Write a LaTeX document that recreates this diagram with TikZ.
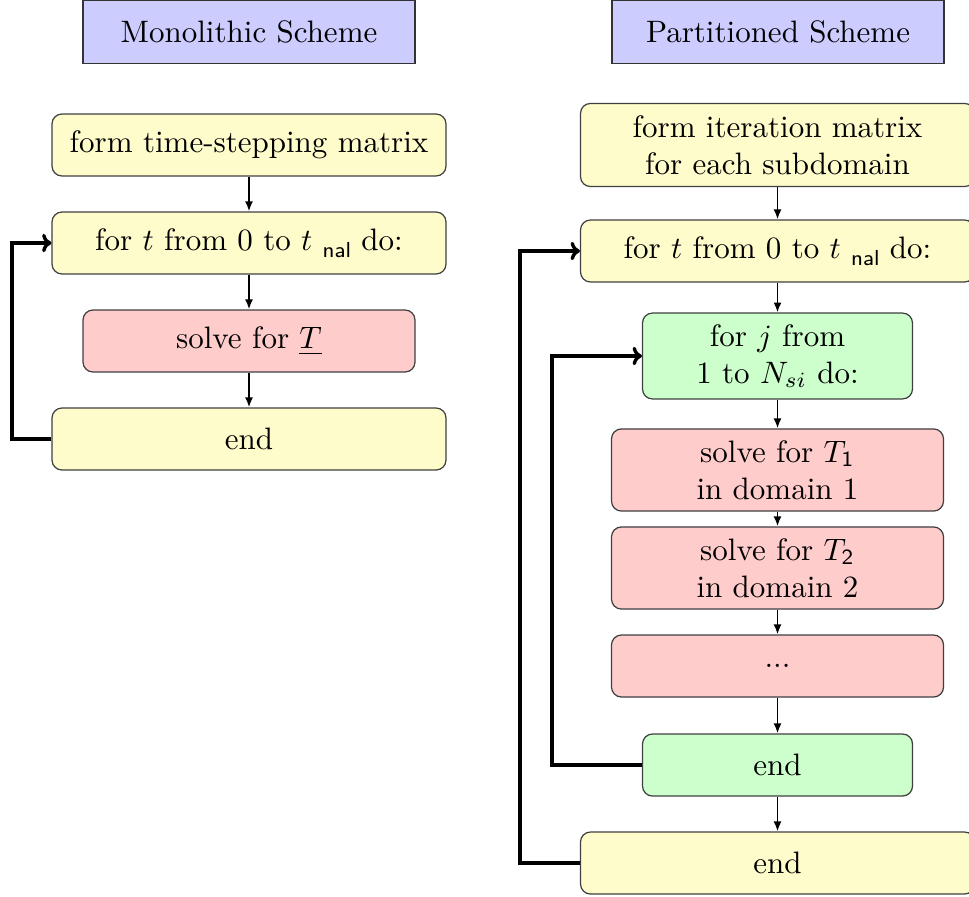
\documentclass[tikz,border=0pt]{standalone}
\usetikzlibrary{arrows.meta}
\begin{document}
\begin{tikzpicture}[x=0.3226pt,y=-0.3226pt,
  base/.style={rounded corners=3.2pt, draw=black!75, line width=0.4pt, inner sep=0pt, align=center, minimum height=20pt},
  titlebox/.style={draw=black!80, fill=blue!20, line width=0.4pt, inner sep=0pt, minimum width=107.1pt, minimum height=20.3pt},
  ybox/.style={base, fill=yellow!20, minimum width=127.1pt},
  rbox/.style={base, fill=red!20, minimum width=107.1pt},
  gbox/.style={base, fill=green!20, minimum width=87.1pt},
  arr/.style={-{Latex[length=3.2pt,width=2.6pt]}, line width=0.6pt},
  loop/.style={-{To[length=3pt,width=6pt]}, line width=1.1pt},
]
\useasboundingbox (0,0) rectangle (969,896);
\newcommand{\tfin}{$t$\ \raisebox{-0.5ex}{\textsf{\scriptsize nal}}}
% left column
\node[titlebox] (tl) at (249,32) {Monolithic Scheme};
\node[ybox] (l1) at (249,145) {form time-stepping matrix};
\node[ybox] (l2) at (249,243) {for $t$ from 0 to \tfin\ do:};
\node[rbox] (l3) at (249,341) {solve for $\underline{T}$};
\node[ybox] (l4) at (249,439) {end};
\draw[arr] (l1) -- (l2);
\draw[arr] (l2) -- (l3);
\draw[arr] (l3) -- (l4);
\coordinate (lc) at (12,0);
\draw[loop] (l4.west) -| (lc |- l4.west) |- (l2.west);
% right column
\node[titlebox] (tr) at (778,32) {Partitioned Scheme};
\node[ybox, minimum height=26.8pt] (r1) at (777.5,145) {form iteration matrix\\for each subdomain};
\node[ybox] (r2) at (777.5,251) {for $t$ from 0 to \tfin\ do:};
\node[gbox, minimum height=27.7pt] (r3) at (777.5,356) {for $j$ from\\1 to $N_{si}$ do:};
\node[rbox, minimum height=26.5pt] (r4) at (777.5,470) {solve for $T_{\mathsf{1}}$\\in domain 1};
\node[rbox, minimum height=26.5pt] (r5) at (777.5,568) {solve for $T_{\mathsf{2}}$\\in domain 2};
\node[rbox] (r6) at (777.5,666) {...};
\node[gbox] (r7) at (777.5,765) {end};
\node[ybox] (r8) at (777.5,863) {end};
\draw[arr] (r1) -- (r2);
\draw[arr] (r2) -- (r3);
\draw[arr] (r3) -- (r4);
\draw[arr] (r4) -- (r5);
\draw[arr] (r5) -- (r6);
\draw[arr] (r6) -- (r7);
\draw[arr] (r7) -- (r8);
\coordinate (ro) at (520,0);
\coordinate (ri) at (552,0);
\draw[loop] (r8.west) -| (ro |- r8.west) |- (r2.west);
\draw[loop] (r7.west) -| (ri |- r7.west) |- (r3.west);
\end{tikzpicture}
\end{document}
